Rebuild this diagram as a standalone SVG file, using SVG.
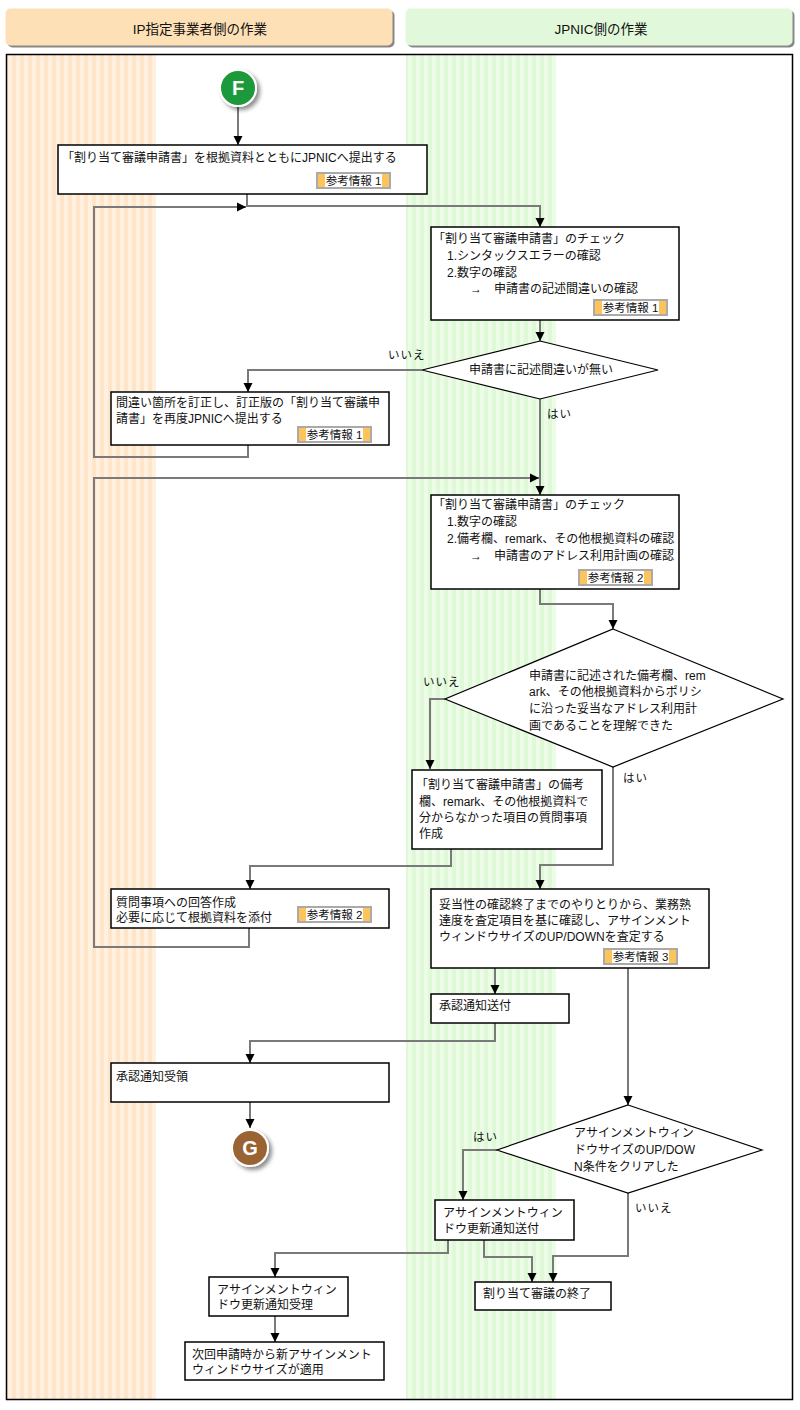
<svg xmlns="http://www.w3.org/2000/svg" width="800" height="1410" viewBox="0 0 800 1410">
<style>
text{font-family:"Liberation Sans","Noto Sans CJK JP",sans-serif;font-size:12px;fill:#111}
.hd{font-size:13.5px}
.box{fill:#fff;stroke:#000;stroke-width:1.5}
.dia{fill:#fff;stroke:#000;stroke-width:1.2}
.con{fill:none;stroke:#7a7a7a;stroke-width:2;marker-end:url(#ah)}
.tag{font-size:11.5px}
.lbl{font-size:11.5px;letter-spacing:1px}
.circ{font-family:"Liberation Sans",sans-serif;font-size:20px;font-weight:bold;fill:#fff}
</style>
<defs>
<pattern id="po" width="8" height="10" patternUnits="userSpaceOnUse">
<rect width="8" height="10" fill="#fff0df"/>
<rect x="4" width="4" height="10" fill="#fee4c8"/>
</pattern>
<pattern id="pg" width="8" height="10" patternUnits="userSpaceOnUse">
<rect width="8" height="10" fill="#ecfce7"/>
<rect x="4" width="4" height="10" fill="#dff8d8"/>
</pattern>
<marker id="ah" markerUnits="userSpaceOnUse" markerWidth="10" markerHeight="10" refX="9" refY="5" orient="auto">
<path d="M0,0.5 L9,5 L0,9.5 z" fill="#000"/>
</marker>
<g id="tagbg">
<rect width="75" height="17" fill="#aaa"/>
<rect x="2" y="2" width="71" height="13" fill="#fdc45c"/>
<rect x="9" y="2" width="57" height="13" fill="#fff"/>
</g>
<filter id="sh" x="-30%" y="-30%" width="170%" height="170%">
<feDropShadow dx="3" dy="3" stdDeviation="2" flood-color="#000" flood-opacity="0.45"/>
</filter>
</defs>

<g id="headers">
<rect x="7.5" y="10.5" width="387" height="37" rx="5" fill="#888"/>
<rect x="5.5" y="8.5" width="387" height="37" rx="5" fill="#fde0b6"/>
<text class="hd" x="200" y="34" text-anchor="middle">IP指定事業者側の作業</text>
<rect x="407.5" y="10.5" width="387" height="37" rx="5" fill="#888"/>
<rect x="405.5" y="8.5" width="387" height="37" rx="5" fill="#e1f9da"/>
<text class="hd" x="601" y="34" text-anchor="middle">JPNIC側の作業</text>
</g>

<g id="frame">
<rect x="6.5" y="54.5" width="786" height="1345" fill="#fff"/>
<rect x="7" y="55" width="149" height="1344" fill="url(#po)"/>
<rect x="406" y="55" width="150" height="1344" fill="url(#pg)"/>
<rect x="6.5" y="54.5" width="786" height="1345" fill="none" stroke="#000" stroke-width="1.5"/>
</g>

<g id="connectors">
<path class="con" d="M238,107 V145"/>
<path class="con" d="M247,194 V206 H540 V227"/>
<path class="con" d="M248,445 V457 H94 V207 H246"/>
<path class="con" d="M540,320 V341"/>
<path class="con" d="M422,370 H248 V392"/>
<path class="con" d="M540,399 V495"/>
<path class="con" d="M249,928 V947 H94 V478 H539"/>
<path class="con" d="M540,589 V604 H613 V629"/>
<path class="con" d="M445,699 H430 V769"/>
<path class="con" d="M613,767 V865 H540 V889"/>
<path class="con" d="M451,849 V866 H250 V889"/>
<path class="con" d="M495,968 V994"/>
<path class="con" d="M628,968 V1105"/>
<path class="con" d="M495,1023 V1041 H250 V1063"/>
<path class="con" d="M250,1102 V1128"/>
<path class="con" d="M497,1150 H463 V1200"/>
<path class="con" d="M628,1193 V1256 H553 V1282"/>
<path class="con" d="M484,1240 V1257 H532 V1282"/>
<path class="con" d="M448,1240 V1253 H275 V1277"/>
<path class="con" d="M275,1316 V1342"/>
</g>

<g id="labels">
<text class="lbl" x="388" y="359">いいえ</text>
<text class="lbl" x="547" y="418">はい</text>
<text class="lbl" x="423" y="686">いいえ</text>
<text class="lbl" x="623" y="782">はい</text>
<text class="lbl" x="473" y="1141">はい</text>
<text class="lbl" x="635" y="1212">いいえ</text>
</g>

<g id="nodeF">
<circle cx="238" cy="88" r="18" fill="#1c9a3a" stroke="#fff" stroke-width="2" filter="url(#sh)"/>
<text class="circ" x="238" y="95" text-anchor="middle">F</text>
</g>

<g id="box1">
<rect class="box" x="58" y="145" width="369" height="49"/>
<text x="62" y="162">「割り当て審議申請書」を根拠資料とともにJPNICへ提出する</text>
<use href="#tagbg" x="316" y="172"/>
<text class="tag" x="353.5" y="184.5" text-anchor="middle">参考情報 1</text>
</g>

<g id="box2">
<rect class="box" x="431" y="227" width="248" height="93"/>
<text x="433" y="243">「割り当て審議申請書」のチェック</text>
<text x="447" y="260">1.シンタックスエラーの確認</text>
<text x="447" y="277">2.数字の確認</text>
<text x="470" y="293">→</text>
<text x="494" y="293">申請書の記述間違いの確認</text>
<use href="#tagbg" x="593" y="299"/>
<text class="tag" x="630.5" y="311.5" text-anchor="middle">参考情報 1</text>
</g>

<g id="dia1">
<polygon class="dia" points="540,341 658,370 540,399 422,370"/>
<text x="469" y="374">申請書に記述間違いが無い</text>
</g>

<g id="box3">
<rect class="box" x="111" y="392" width="278" height="53"/>
<text x="116" y="407">間違い箇所を訂正し、訂正版の「割り当て審議申</text>
<text x="116" y="423">請書」を再度JPNICへ提出する</text>
<use href="#tagbg" x="297" y="426"/>
<text class="tag" x="334.5" y="438.5" text-anchor="middle">参考情報 1</text>
</g>

<g id="box4">
<rect class="box" x="431" y="495" width="248" height="94"/>
<text x="433" y="509">「割り当て審議申請書」のチェック</text>
<text x="447" y="526">1.数字の確認</text>
<text x="447" y="543">2.備考欄、remark、その他根拠資料の確認</text>
<text x="470" y="560">→</text>
<text x="494" y="560">申請書のアドレス利用計画の確認</text>
<use href="#tagbg" x="578" y="569"/>
<text class="tag" x="615.5" y="581.5" text-anchor="middle">参考情報 2</text>
</g>

<g id="dia2">
<polygon class="dia" points="613,629 783,699 613,767 445,699"/>
<text x="529" y="680">申請書に記述された備考欄、rem</text>
<text x="529" y="696">ark、その他根拠資料からポリシ</text>
<text x="529" y="713">に沿った妥当なアドレス利用計</text>
<text x="529" y="730">画であることを理解できた</text>
</g>

<g id="box5">
<rect class="box" x="412" y="770" width="190" height="79"/>
<text x="416" y="789">「割り当て審議申請書」の備考</text>
<text x="419" y="806">欄、remark、その他根拠資料で</text>
<text x="419" y="822">分からなかった項目の質問事項</text>
<text x="419" y="838">作成</text>
</g>

<g id="box7">
<rect class="box" x="111" y="889" width="278" height="39"/>
<text x="116" y="907">質問事項への回答作成</text>
<text x="116" y="922">必要に応じて根拠資料を添付</text>
<use href="#tagbg" x="297" y="906"/>
<text class="tag" x="334.5" y="918.5" text-anchor="middle">参考情報 2</text>
</g>

<g id="box6">
<rect class="box" x="431" y="889" width="278" height="79"/>
<text x="439" y="909">妥当性の確認終了までのやりとりから、業務熟</text>
<text x="439" y="925">達度を査定項目を基に確認し、アサインメント</text>
<text x="439" y="941">ウィンドウサイズのUP/DOWNを査定する</text>
<use href="#tagbg" x="603" y="948"/>
<text class="tag" x="640.5" y="960.5" text-anchor="middle">参考情報 3</text>
</g>

<g id="box8">
<rect class="box" x="431" y="994" width="138" height="29"/>
<text x="439" y="1010">承認通知送付</text>
</g>

<g id="box9">
<rect class="box" x="111" y="1063" width="278" height="39"/>
<text x="116" y="1081">承認通知受領</text>
</g>

<g id="nodeG">
<circle cx="250" cy="1148" r="18" fill="#9a6432" stroke="#fff" stroke-width="2" filter="url(#sh)"/>
<text class="circ" x="250" y="1155" text-anchor="middle">G</text>
</g>

<g id="dia3">
<polygon class="dia" points="628,1105 762,1150 628,1193 497,1150"/>
<text x="574" y="1137">アサインメントウィン</text>
<text x="574" y="1154">ドウサイズのUP/DOW</text>
<text x="574" y="1171">N条件をクリアした</text>
</g>

<g id="box10">
<rect class="box" x="435" y="1200" width="139" height="40"/>
<text x="443" y="1217">アサインメントウィン</text>
<text x="443" y="1233">ドウ更新通知送付</text>
</g>

<g id="box11">
<rect class="box" x="475" y="1282" width="136" height="28"/>
<text x="483" y="1298">割り当て審議の終了</text>
</g>

<g id="box12">
<rect class="box" x="209" y="1277" width="139" height="39"/>
<text x="217" y="1294">アサインメントウィン</text>
<text x="217" y="1309">ドウ更新通知受理</text>
</g>

<g id="box13">
<rect class="box" x="185" y="1342" width="199" height="38"/>
<text x="192" y="1359">次回申請時から新アサインメント</text>
<text x="192" y="1374">ウィンドウサイズが適用</text>
</g>
</svg>
